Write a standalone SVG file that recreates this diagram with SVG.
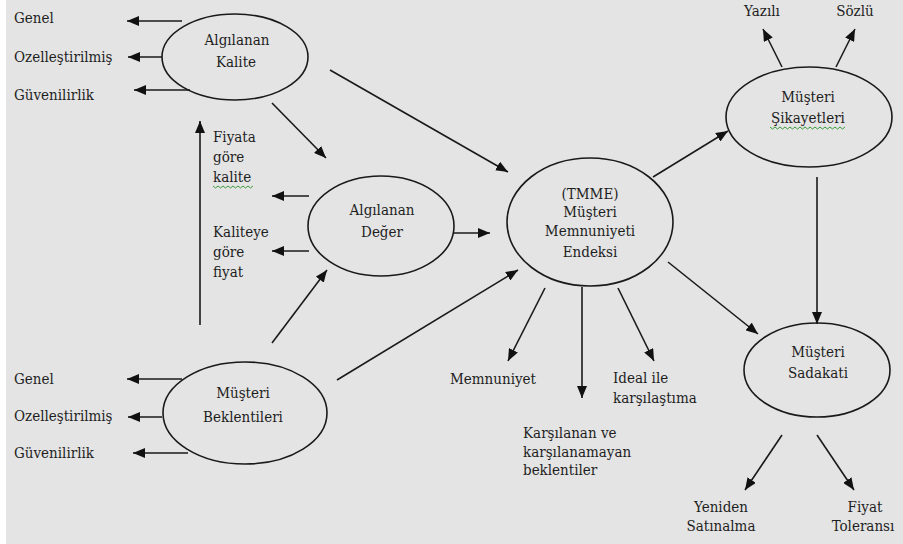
<svg xmlns="http://www.w3.org/2000/svg" width="903" height="544" viewBox="0 0 903 544">
<style>
text{font-family:'DejaVu Serif Condensed','DejaVu Serif',serif;font-stretch:condensed;font-size:15px;fill:#1e1e1e}
.c{text-anchor:middle}
.n{fill:none;stroke:#1a1a1a;stroke-width:1.6}
.a{stroke:#1a1a1a;stroke-width:1.6;fill:none;marker-end:url(#ah)}
.sq{fill:none;stroke:#3c9a3c;stroke-width:1}
</style>
<defs>
<marker id="ah" viewBox="0 0 12 10" refX="12" refY="5" markerWidth="12" markerHeight="10" markerUnits="userSpaceOnUse" orient="auto">
<path d="M0,0 L12,5 L0,10 z" fill="#111"/>
</marker>
</defs>
<rect x="0" y="0" width="903" height="544" fill="#ffffff"/>
<rect x="6" y="0" width="897" height="544" fill="#e4e4e4"/>

<g id="connectors">
<line class="a" x1="182" y1="21" x2="127" y2="21"/>
<line class="a" x1="162" y1="57" x2="128" y2="57"/>
<line class="a" x1="190" y1="90" x2="134" y2="90"/>
<line class="a" x1="200" y1="325" x2="200" y2="121"/>
<line class="a" x1="272" y1="103" x2="326" y2="158"/>
<line class="a" x1="330" y1="70" x2="508" y2="172"/>
<line class="a" x1="309" y1="196" x2="272" y2="196"/>
<line class="a" x1="309" y1="251" x2="272" y2="251"/>
<line class="a" x1="454" y1="233" x2="490" y2="233"/>
<line class="a" x1="272" y1="343" x2="327" y2="270"/>
<line class="a" x1="337" y1="380" x2="518" y2="270"/>
<line class="a" x1="182" y1="379" x2="127" y2="379"/>
<line class="a" x1="162" y1="417" x2="128" y2="417"/>
<line class="a" x1="188" y1="453" x2="133" y2="453"/>
<line class="a" x1="653" y1="177" x2="728" y2="131"/>
<line class="a" x1="782" y1="67" x2="763" y2="29"/>
<line class="a" x1="836" y1="67" x2="855" y2="29"/>
<line class="a" x1="817" y1="177" x2="817" y2="324"/>
<line class="a" x1="668" y1="262" x2="758" y2="334"/>
<line class="a" x1="782" y1="435" x2="745" y2="490"/>
<line class="a" x1="817" y1="435" x2="854" y2="490"/>
<line class="a" x1="545" y1="288" x2="508" y2="361"/>
<line class="a" x1="582" y1="287" x2="582" y2="398"/>
<line class="a" x1="618" y1="288" x2="654" y2="361"/>
</g>

<g id="algilanan-kalite">
<ellipse class="n" cx="235" cy="57" rx="73" ry="43"/>
<text class="c" x="237" y="45">Algılanan</text>
<text class="c" x="236" y="67">Kalite</text>
</g>
<g id="kalite-labels">
<text x="14" y="23">Genel</text>
<text x="14" y="62">Ozelleştirilmiş</text>
<text x="14" y="100">Güvenilirlik</text>
</g>
<g id="fiyata-gore-kalite">
<text x="213" y="142">Fiyata</text>
<text x="213" y="162">göre</text>
<text x="213" y="182">kalite</text>
<path class="sq" d="M213,186 l2.5,2 l2.5,-2 l2.5,2 l2.5,-2 l2.5,2 l2.5,-2 l2.5,2 l2.5,-2 l2.5,2 l2.5,-2 l2.5,2 l2.5,-2 l2.5,2 l2.5,-2 l2.5,2 l2.5,-2"/>
</g>
<g id="kaliteye-gore-fiyat">
<text x="213" y="237">Kaliteye</text>
<text x="213" y="257">göre</text>
<text x="213" y="277">fiyat</text>
</g>
<g id="algilanan-deger">
<ellipse class="n" cx="381" cy="226" rx="73" ry="50"/>
<text class="c" x="382" y="215">Algılanan</text>
<text class="c" x="382" y="237">Değer</text>
</g>
<g id="tmme">
<ellipse class="n" cx="590" cy="222" rx="83" ry="64"/>
<text class="c" x="590" y="199">(TMME)</text>
<text class="c" x="590" y="217">Müşteri</text>
<text class="c" x="590" y="236">Memnuniyeti</text>
<text class="c" x="590" y="257">Endeksi</text>
</g>
<g id="musteri-beklentileri">
<ellipse class="n" cx="245" cy="413" rx="82" ry="51"/>
<text class="c" x="243" y="398">Müşteri</text>
<text class="c" x="243" y="422">Beklentileri</text>
</g>
<g id="beklenti-labels">
<text x="14" y="384">Genel</text>
<text x="14" y="421">Ozelleştirilmiş</text>
<text x="14" y="458">Güvenilirlik</text>
</g>
<g id="musteri-sikayetleri">
<ellipse class="n" cx="809" cy="117" rx="83" ry="50"/>
<text class="c" x="808" y="102">Müşteri</text>
<text class="c" x="808" y="123">Şikayetleri</text>
<path class="sq" d="M770,127 l2.5,2 l2.5,-2 l2.5,2 l2.5,-2 l2.5,2 l2.5,-2 l2.5,2 l2.5,-2 l2.5,2 l2.5,-2 l2.5,2 l2.5,-2 l2.5,2 l2.5,-2 l2.5,2 l2.5,-2 l2.5,2 l2.5,-2 l2.5,2 l2.5,-2 l2.5,2 l2.5,-2 l2.5,2 l2.5,-2 l2.5,2 l2.5,-2 l2.5,2 l2.5,-2 l2.5,2 l2.5,-2"/>
</g>
<g id="yazili"><text class="c" x="762" y="16">Yazılı</text></g>
<g id="sozlu"><text class="c" x="855" y="16">Sözlü</text></g>
<g id="musteri-sadakati">
<ellipse class="n" cx="817" cy="370" rx="73" ry="47"/>
<text class="c" x="818" y="357">Müşteri</text>
<text class="c" x="818" y="378">Sadakati</text>
</g>
<g id="yeniden-satinalma">
<text class="c" x="721" y="512">Yeniden</text>
<text class="c" x="721" y="531">Satınalma</text>
</g>
<g id="fiyat-toleransi">
<text class="c" x="865" y="512">Fiyat</text>
<text class="c" x="863" y="531">Toleransı</text>
</g>
<g id="memnuniyet"><text class="c" x="493" y="384">Memnuniyet</text></g>
<g id="ideal-ile">
<text x="613" y="383">Ideal ile</text>
<text x="613" y="403">karşılaştıma</text>
</g>
<g id="karsilanan">
<text x="523" y="438">Karşılanan ve</text>
<text x="523" y="457">karşılanamayan</text>
<text x="523" y="475">beklentiler</text>
</g>
</svg>
